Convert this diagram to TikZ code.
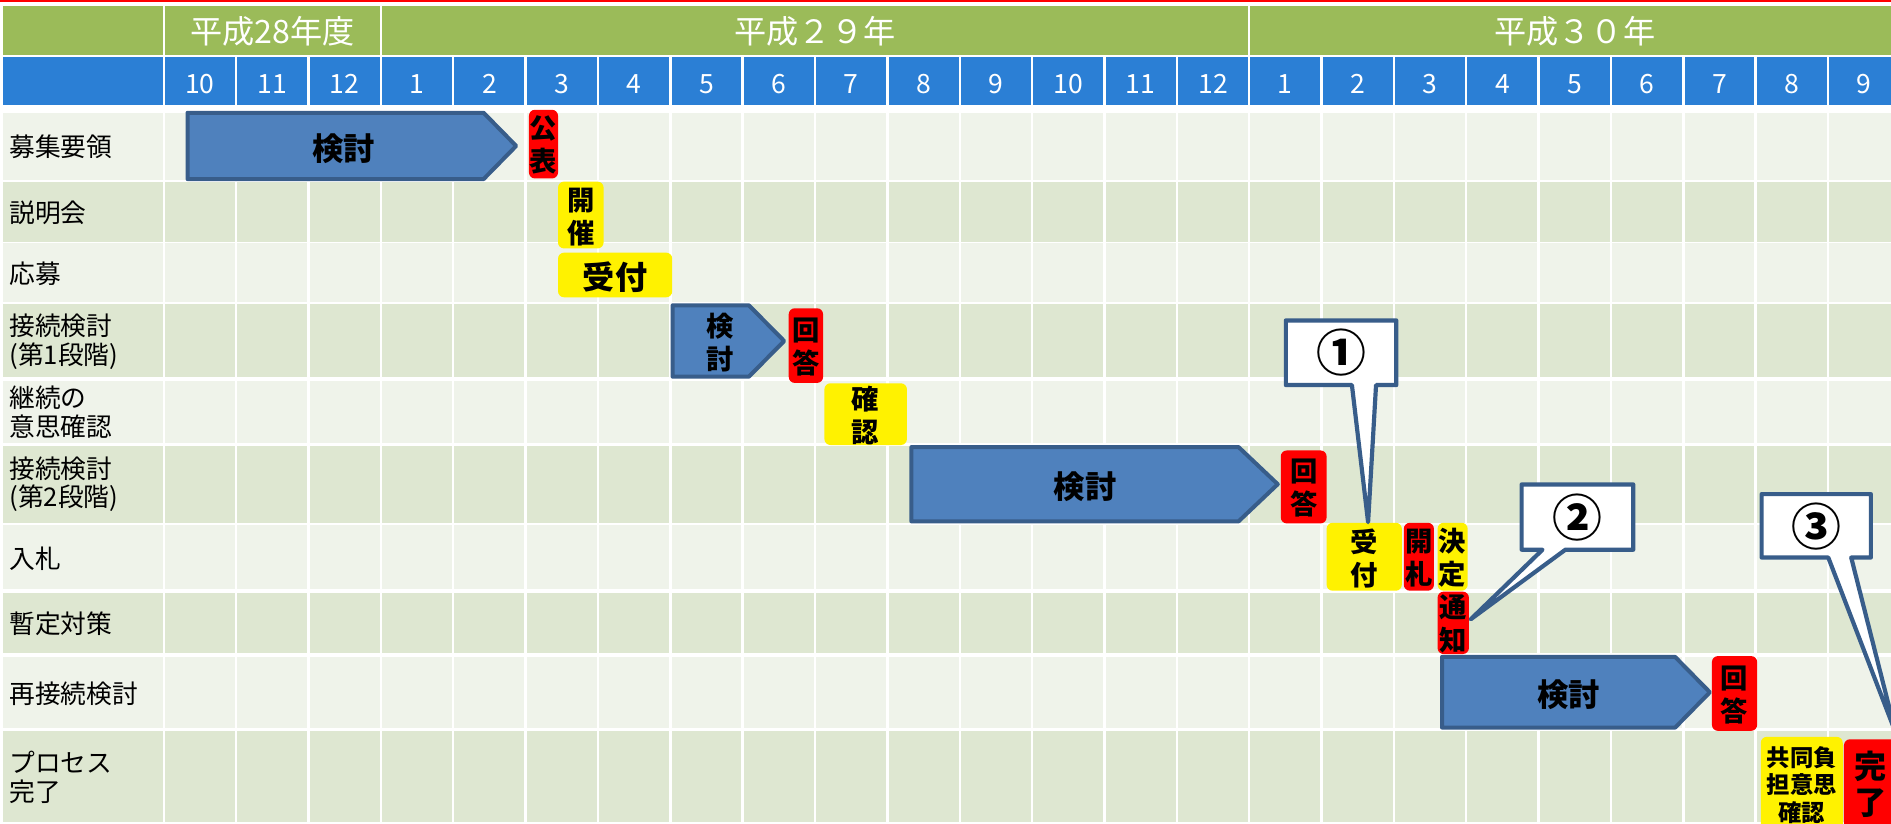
\documentclass[tikz,border=0pt]{standalone}
\usepackage{fontspec}
\setmainfont{Noto Sans CJK JP}
\definecolor{hdrgreen}{RGB}{155,187,89}
\definecolor{hdrblue}{RGB}{43,127,213}
\definecolor{rowlight}{RGB}{239,243,234}
\definecolor{rowdark}{RGB}{222,231,209}
\definecolor{arrowfill}{RGB}{79,129,189}
\definecolor{arrowline}{RGB}{56,93,138}
\begin{document}
\begin{tikzpicture}[x=0.75pt,y=-0.75pt,
  rowlabel/.style={anchor=west,align=left,inner sep=0pt,font=\fontsize{16}{17.8}\selectfont},
  hdrtext/.style={inner sep=0pt,text=white,font=\fontsize{20}{24}\selectfont},
  monthtext/.style={inner sep=0pt,text=white,font=\fontsize{16.5}{20}\selectfont},
  boxtext/.style={inner sep=0pt,align=center,font=\bfseries\fontsize{17}{20.5}\selectfont},
  bigtext/.style={inner sep=0pt,align=center,font=\bfseries\fontsize{19.5}{24}\selectfont},
  smalltext/.style={inner sep=0pt,align=center,font=\bfseries\fontsize{14.5}{17}\selectfont},
  taskarrow/.style={fill=arrowfill,draw=arrowline,line width=2.5pt,line join=round},
  redbox/.style={fill=red,rounded corners=3.75pt},
  yellowbox/.style={fill=yellow,rounded corners=3.75pt},
  callout/.style={fill=white,draw=arrowline,line width=2.6pt,line join=round},
  circnum/.style={inner sep=0pt,font=\bfseries\fontsize{31}{36}\selectfont}
]
\path[use as bounding box] (0,0) rectangle (1568,683);
\clip (0,0) rectangle (1568,683);
\fill[white] (0,0) rectangle (1568,683);
\fill[red] (0,0) rectangle (1568,1.6);

% header rows
\fill[hdrgreen] (2.5,5) rectangle (134.8,45.6);
\fill[hdrgreen] (136.8,5) rectangle (314.8,45.6);
\fill[hdrgreen] (316.8,5) rectangle (1034.8,45.6);
\fill[hdrgreen] (1036.8,5) rectangle (1580,45.6);
\node[hdrtext] (y28) at (225.8,26.3) {平成28年度};
\node[hdrtext] (y29) at (675.8,26.3) {平成２９年};
\node[hdrtext] (y30) at (1305.8,26.3) {平成３０年};

\fill[hdrblue] (2.5,47.5) rectangle (134.8,87.3);
\foreach \m [count=\i from 0] in {10,11,12,1,2,3,4,5,6,7,8,9,10,11,12,1,2,3,4,5,6,7,8,9}{
  \fill[hdrblue] ({136.8+60*\i},47.5) rectangle ({194.8+60*\i},87.3);
  \node[monthtext] (m\i) at ({165.8+60*\i},69.5) {\m};
}

% body grid
\foreach \t/\b/\c in {94/149.3/rowlight,150.7/200.4/rowdark,201.8/250/rowlight,252/312.8/rowdark,315.6/367/rowlight,369.8/433.4/rowdark,435.3/488.6/rowlight,491.4/541.7/rowdark,544.5/603.8/rowlight,606/681.5/rowdark}{
  \fill[\c] (2.5,\t) rectangle (134.8,\b);
  \foreach \i in {0,...,23}{
    \fill[\c] ({136.8+60*\i},\t) rectangle ({194.8+60*\i},\b);
  }
}

% row labels
\node[rowlabel] (l1) at (7.5,121.5) {募集要領};
\node[rowlabel] (l2) at (7.5,176.4) {説明会};
\node[rowlabel] (l3) at (7.5,226.7) {応募};
\node[rowlabel] (l4) at (7.5,283.5) {接続検討\\(第1段階)};
\node[rowlabel] (l5) at (7.5,342) {継続の\\意思確認};
\node[rowlabel] (l6) at (7.5,401.5) {接続検討\\(第2段階)};
\node[rowlabel] (l7) at (7.5,463.5) {入札};
\node[rowlabel] (l8) at (7.5,517.5) {暫定対策};
\node[rowlabel] (l9) at (7.5,575.5) {再接続検討};
\node[rowlabel] (l10) at (7.5,644.4) {プロセス\\完了};

% row 1
\filldraw[taskarrow] (155.5,93.5) -- (401,93.5) -- (428,121) -- (401,148.5) -- (155.5,148.5) -- cycle;
\node[bigtext] (a1) at (285,123) {検討};
\fill[redbox] (438.6,91) rectangle (462.7,148);
\node[boxtext] (b1) at (450.6,120) {公\\表};

% row 2
\fill[yellowbox] (462.7,150.6) rectangle (500.5,206);
\node[boxtext] (b2) at (481.6,180) {開\\催};

% row 3
\fill[yellowbox] (462.7,209.5) rectangle (557.4,246.5);
\node[inner sep=0pt,font=\bfseries\fontsize{20}{24}\selectfont] (b3) at (510,229.8) {受付};

% row 4
\filldraw[taskarrow] (557.7,253.2) -- (621,253.2) -- (650.2,282.75) -- (621,312.3) -- (557.7,312.3) -- cycle;
\node[boxtext] (a4) at (597,284) {検\\討};
\fill[redbox] (654,255.6) rectangle (682.5,317.5);
\node[boxtext] (b4) at (668.5,288) {回\\答};

% row 5
\fill[yellowbox] (683.6,317.8) rectangle (752,369);
\node[boxtext] (b5) at (717.5,344.5) {確\\認};

% row 6
\filldraw[taskarrow] (755.7,370.7) -- (1027,370.7) -- (1059.5,401.5) -- (1027,432.3) -- (755.7,432.3) -- cycle;
\node[bigtext] (a6) at (899.7,403.6) {検討};
\fill[redbox] (1062,373.5) rectangle (1100,434);
\node[boxtext] (b6) at (1081,405) {回\\答};

% row 7
\fill[yellowbox] (1100,433.5) rectangle (1162.4,489.8);
\node[boxtext] (b7a) at (1131.2,463.5) {受\\付};
\fill[redbox] (1164,433.5) rectangle (1189,489.8);
\node[boxtext] (b7b) at (1176.5,462.5) {開\\札};
\fill[yellowbox] (1192,433.5) rectangle (1217,489.8);
\node[boxtext] (b7c) at (1204.5,462.5) {決\\定};

% row 8
\fill[redbox] (1192,490.6) rectangle (1218,542.3);
\node[boxtext] (b8) at (1205,517) {通\\知};

% row 9
\filldraw[taskarrow] (1195.7,544.7) -- (1389,544.7) -- (1417.8,574) -- (1389,603.3) -- (1195.7,603.3) -- cycle;
\node[bigtext] (a9) at (1300.5,576.3) {検討};
\fill[redbox] (1419.5,544) rectangle (1457,606);
\node[boxtext] (b9) at (1438.3,576) {回\\答};

% row 10
\fill[yellowbox] (1460,611) rectangle (1528,691);
\node[smalltext] (b10a) at (1494,651) {共同負\\担意思\\確認};
\fill[redbox] (1529,613) rectangle (1573,687);
\node[inner sep=0pt,align=center,font=\bfseries\fontsize{20}{22.5}\selectfont] (b10b) at (1551,650) {完\\了};

% callouts
\filldraw[callout] (1066.2,265.7) -- (1157.8,265.7) -- (1157.8,319.3) -- (1141,319.3) -- (1134.4,433) -- (1121,319.3) -- (1066.2,319.3) -- cycle;
\node[circnum] (c1) at (1112,292.5) {①};
\filldraw[callout] (1261.7,401.7) -- (1354.3,401.7) -- (1354.3,455.8) -- (1298,455.8) -- (1219.5,513.5) -- (1279,455.8) -- (1261.7,455.8) -- cycle;
\node[circnum] (c2) at (1308,429) {②};
\filldraw[callout] (1460.7,409.7) -- (1551.3,409.7) -- (1551.3,462.3) -- (1535,462.3) -- (1572,608) -- (1516,462.3) -- (1460.7,462.3) -- cycle;
\node[circnum] (c3) at (1506,436.5) {③};
\end{tikzpicture}
\end{document}
